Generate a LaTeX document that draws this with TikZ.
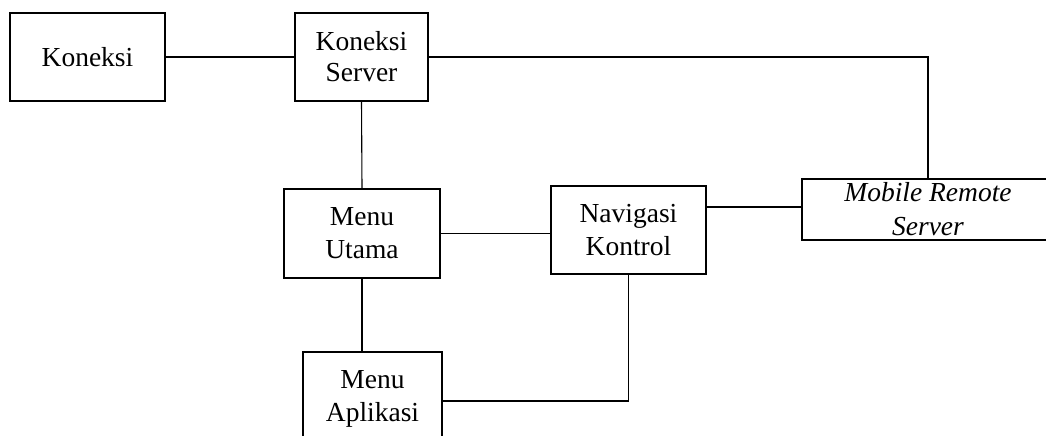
\documentclass[tikz,border=0pt]{standalone}
\usepackage{fontspec}
\setmainfont{Liberation Serif}
\begin{document}
\begin{tikzpicture}[x=1pt,y=-1pt,
  box/.style={draw,line width=1.2pt,inner sep=0pt,align=center},
  fnt/.style={font=\fontsize{27.5}{#1}\selectfont},
  conn/.style={line width=1.1pt}]
\useasboundingbox (0,0) rectangle (1046,436);
\clip (0,0) rectangle (1046,436);
\node[box,fnt=32,minimum width=155pt,minimum height=88pt] (kon) at (87.5,57) {Koneksi};
\node[box,fnt=31,minimum width=133pt,minimum height=88pt] (ks) at (361.5,57) {Koneksi\\Server};
\node[box,fnt=33,minimum width=156pt,minimum height=89pt] (mu) at (362,233.5) {Menu\\Utama};
\node[box,fnt=33,minimum width=155pt,minimum height=88pt] (nk) at (628.5,230) {Navigasi\\Kontrol};
\node[box,minimum width=252pt,minimum height=61pt,font=\fontsize{27.5}{34}\itshape\selectfont] (mrs) at (928,209.5) {Mobile Remote\\Server};
\node[box,fnt=33,minimum width=139pt,minimum height=88pt,text depth=0pt] (ma) at (372.5,396) {Menu\\Aplikasi};
\draw[conn] (kon.east) -- (ks.west);
\draw[conn] (ks.east) -| (mrs.north);
\draw[conn] (ks.south) -- (mu.north);
\draw[conn] (mu.east) -- (mu.east -| nk.west);
\draw[conn] ([yshift=2.5pt]mrs.west -| nk.east) -- ([yshift=2.5pt]mrs.west);
\draw[conn] (mu.south) -- (mu.south |- ma.north);
\draw[conn] ([yshift=-5pt]ma.east) -| (nk.south);
\end{tikzpicture}
\end{document}
